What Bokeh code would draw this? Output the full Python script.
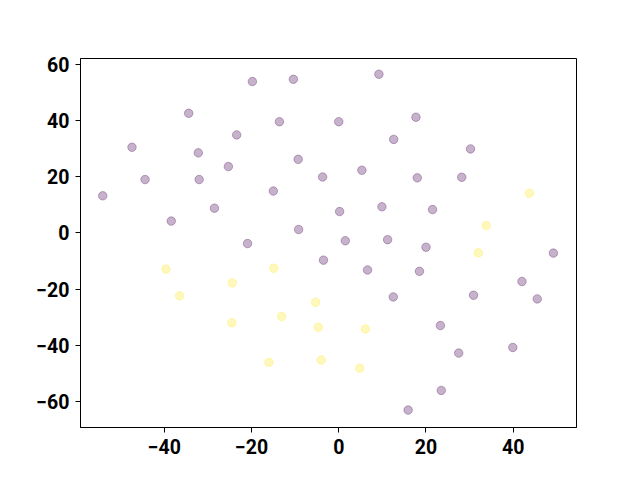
from bokeh.plotting import figure
from bokeh.models import FixedTicker, Range1d, ColumnDataSource
from bokeh.embed import file_html
from bokeh.resources import INLINE

# Purple class (viridis low end)
purple_x = [-19.8, -10.4, -34.4, -13.6, -23.4, -47.4, -32.2, -9.3, -25.3, -3.7,
            -44.4, -32.0, -54.1, -15.0, -28.5, -38.4, -9.2, -20.9, -3.5,
            9.2, 0.0, 17.7, 12.6, 30.2, 5.3, 18.0, 28.2, 0.2, 9.9, 21.5,
            1.5, 11.2, 20.0, 49.2, 6.6, 18.5, 42.0, 12.5, 30.9, 45.5,
            23.3, 27.5, 39.9, 23.5, 15.9]
purple_y = [53.9, 54.7, 42.6, 39.6, 34.9, 30.5, 28.5, 26.2, 23.6, 19.9,
            19.0, 19.0, 13.2, 14.9, 8.8, 4.2, 1.2, -3.8, -9.7,
            56.5, 39.6, 41.2, 33.3, 29.9, 22.3, 19.6, 19.8, 7.6, 9.3, 8.3,
            -2.8, -2.4, -5.1, -7.2, -13.2, -13.7, -17.3, -22.8, -22.2, -23.5,
            -33.0, -42.8, -40.8, -56.1, -63.1]

# Yellow class (viridis high end)
yellow_x = [43.7, 33.8, 32.0, 6.1, 4.8, -39.6, -14.9, -24.4, -36.5, -5.3,
            -13.1, -24.5, -4.7, -16.0, -4.0]
yellow_y = [14.1, 2.6, -7.1, -34.2, -48.2, -12.9, -12.6, -17.8, -22.4, -24.7,
            -29.8, -32.0, -33.6, -46.1, -45.3]

x_ticks = [-40, -20, 0, 20, 40]
y_ticks = [-60, -40, -20, 0, 20, 40, 60]

p = figure(width=624, height=464, output_backend="svg", toolbar_location=None,
           x_range=Range1d(-59.2, 54.5), y_range=Range1d(-69.3, 62.1),
           min_border_left=80, min_border_right=48, min_border_top=58,
           min_border_bottom=37)

src = ColumnDataSource(dict(
    x=purple_x + yellow_x,
    y=purple_y + yellow_y,
    c=["#440154"] * len(purple_x) + ["#fde725"] * len(yellow_x),
))
p.scatter("x", "y", source=src, size=8.5, fill_color="c", line_color="c",
          fill_alpha=0.3, line_alpha=0.3, line_width=1)

p.grid.visible = False
p.outline_line_color = "black"
p.outline_line_width = 1
p.outline_line_alpha = 1

p.xaxis.ticker = FixedTicker(ticks=x_ticks)
p.yaxis.ticker = FixedTicker(ticks=y_ticks)
p.xaxis.major_label_overrides = {t: (str(t).replace("-", "\u2212")) for t in x_ticks}
p.yaxis.major_label_overrides = {t: (str(t).replace("-", "\u2212")) for t in y_ticks}

for ax in (p.xaxis[0], p.yaxis[0]):
    ax.axis_line_color = "black"
    ax.major_tick_line_color = "black"
    ax.major_tick_out = 5
    ax.major_tick_in = 0
    ax.minor_tick_line_color = None
    ax.major_label_text_font = "Roboto"
    ax.major_label_text_font_style = "bold"
    ax.major_label_text_font_size = "19.5px"
    ax.major_label_text_color = "black"
    ax.major_label_standoff = 6

open("out.html", "w").write(file_html(p, INLINE))
